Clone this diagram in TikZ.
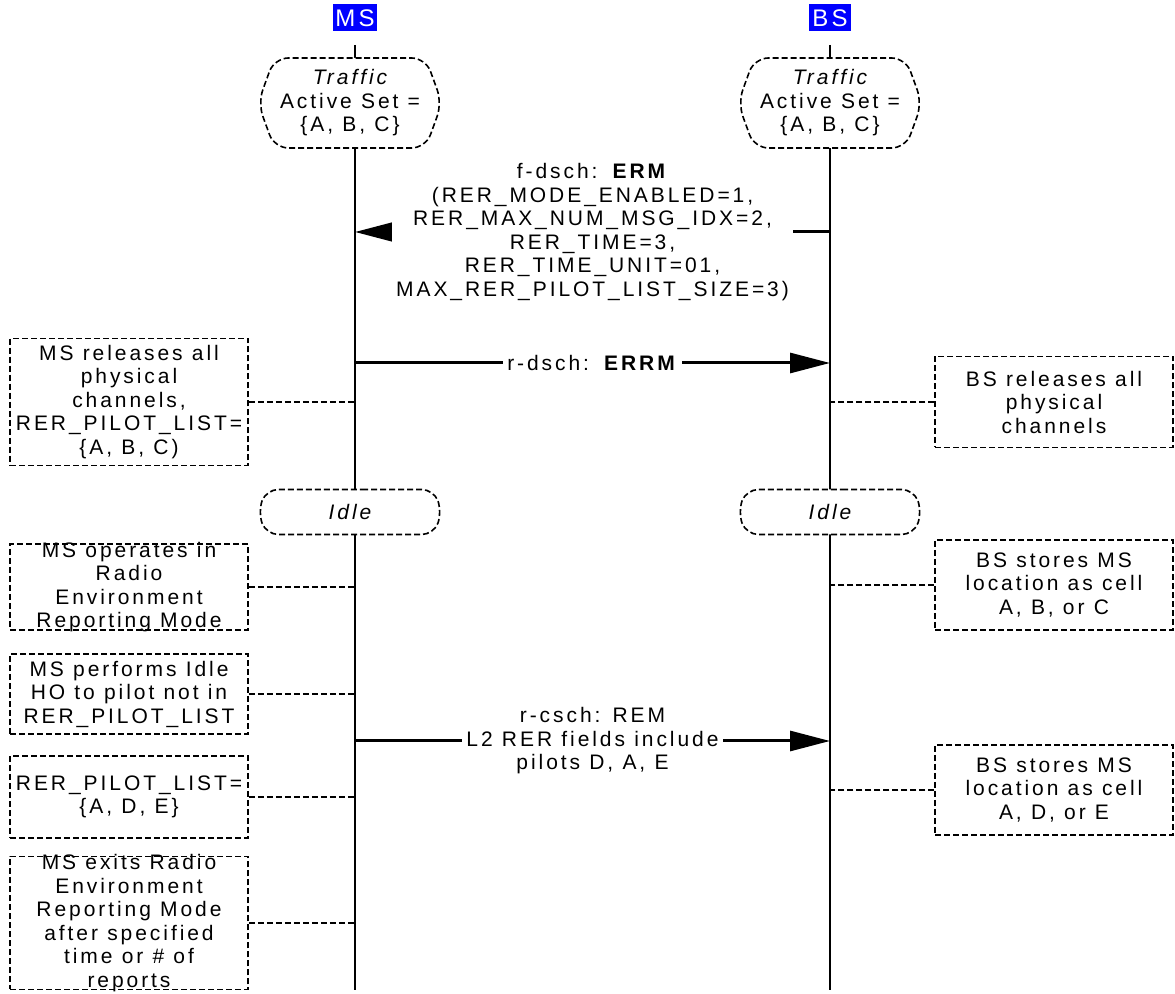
\documentclass[tikz,border=0pt]{standalone}
\usepackage{fontspec}
\setmainfont[LetterSpace=14]{Liberation Sans}
\usetikzlibrary{arrows.meta,shapes.symbols}
\newcommand{\diagfont}{\fontsize{10.5}{11.75}\selectfont\spaceskip=4.6pt plus 1pt minus 1pt\relax}

\begin{document}
\begin{tikzpicture}[x=0.5pt, y=-0.5pt,
    every node/.style={font=\diagfont},
    head_style/.style={fill=blue, text=white, minimum width=21pt, minimum height=13.5pt, inner sep=1pt,
        font=\fontsize{12}{12}\selectfont},
    state_style/.style={draw, dash pattern=on 3pt off 1.5pt, line width=0.8pt, fill=white,
        shape=signal, signal to=east and west, signal pointer angle=140,
        rounded corners=7pt, minimum width=92pt, align=center, inner sep=1pt},
    note_style/.style={draw, dash pattern=on 3pt off 1.5pt, line width=0.75pt, fill=white,
        minimum width=119pt, inner xsep=2pt, align=center},
    life_style/.style={line width=1pt},
    link_style/.style={dash pattern=on 3pt off 1.5pt, line width=0.75pt},
    msg_style/.style={line width=1.5pt, -{Triangle[length=20pt,width=10pt]}},
    label_style/.style={fill=white, align=center, inner sep=2pt}
]
\useasboundingbox (0,0) rectangle (1175,994);

% Entites et lignes de vie
\node[head_style] (mshead) at (355,18) {MS};
\node[head_style] (bshead) at (830,18) {BS};
\coordinate (msend) at (355,990);
\coordinate (bsend) at (830,990);
\draw[life_style] ([yshift=-6.5pt]mshead.south) -- (msend);
\draw[life_style] ([yshift=-6.5pt]bshead.south) -- (bsend);

% Etats
\node[state_style, minimum height=45pt] (mstraffic) at (350,103) {\itshape Traffic\\Active Set =\\\{A, B, C\}};
\node[state_style, minimum height=45pt] (bstraffic) at (830,103) {\itshape Traffic\\Active Set =\\\{A, B, C\}};
\node[state_style, minimum height=22.5pt, rounded corners=6pt] (msidle) at (350,512) {\itshape Idle};
\node[state_style, minimum height=22.5pt, rounded corners=6pt] (bsidle) at (830,512) {\itshape Idle};

% Messages
\coordinate (ermfrom) at (830,232);
\coordinate (ermto) at (355,232);
\draw[msg_style] (ermfrom) -- node[label_style] {f-dsch: \textbf{ERM}\\(RER\_MODE\_ENABLED=1,\\RER\_MAX\_NUM\_MSG\_IDX=2,\\RER\_TIME=3,\\RER\_TIME\_UNIT=01,\\MAX\_RER\_PILOT\_LIST\_SIZE=3)} (ermto);
\coordinate (errmfrom) at (355,363);
\coordinate (errmto) at (830,363);
\draw[msg_style] (errmfrom) -- node[label_style] {r-dsch: \textbf{ERRM}} (errmto);
\coordinate (remfrom) at (355,741);
\coordinate (remto) at (830,741);
\draw[msg_style] (remfrom) -- node[label_style] {r-csch: REM\\L2 RER fields include\\pilots D, A, E} (remto);

% Notes MS
\node[note_style, minimum height=62.5pt] (msnote1) at (129,402) {MS releases all\\physical\\channels,\\RER\_PILOT\_LIST=\\\{A, B, C)};
\node[note_style, minimum height=43pt, inner ysep=-1.5pt] (msnote2) at (129,587) {MS operates in\\Radio\\Environment\\Reporting Mode};
\node[note_style, minimum height=40pt] (msnote3) at (129,694) {MS performs Idle\\HO to pilot not in\\RER\_PILOT\_LIST};
\node[note_style, minimum height=41pt] (msnote4) at (129,797) {RER\_PILOT\_LIST=\\\{A, D, E\}};
\node[note_style, minimum height=66.5pt, inner ysep=-1.5pt] (msnote5) at (129,923) {MS exits Radio\\Environment\\Reporting Mode\\after specified\\time or \# of\\reports};
\foreach \n in {1,...,5}
    \draw[link_style] (msnote\n.east) -- (msnote\n.east -| mshead);

% Notes BS
\node[note_style, minimum height=45.5pt] (bsnote1) at (1054,402) {BS releases all\\physical\\channels};
\node[note_style, minimum height=45pt] (bsnote2) at (1054,585) {BS stores MS\\location as cell\\A, B, or C};
\node[note_style, minimum height=45pt] (bsnote3) at (1054,790) {BS stores MS\\location as cell\\A, D, or E};
\foreach \n in {1,...,3}
    \draw[link_style] (bsnote\n.west) -- (bsnote\n.west -| bshead);
\end{tikzpicture}
\end{document}
